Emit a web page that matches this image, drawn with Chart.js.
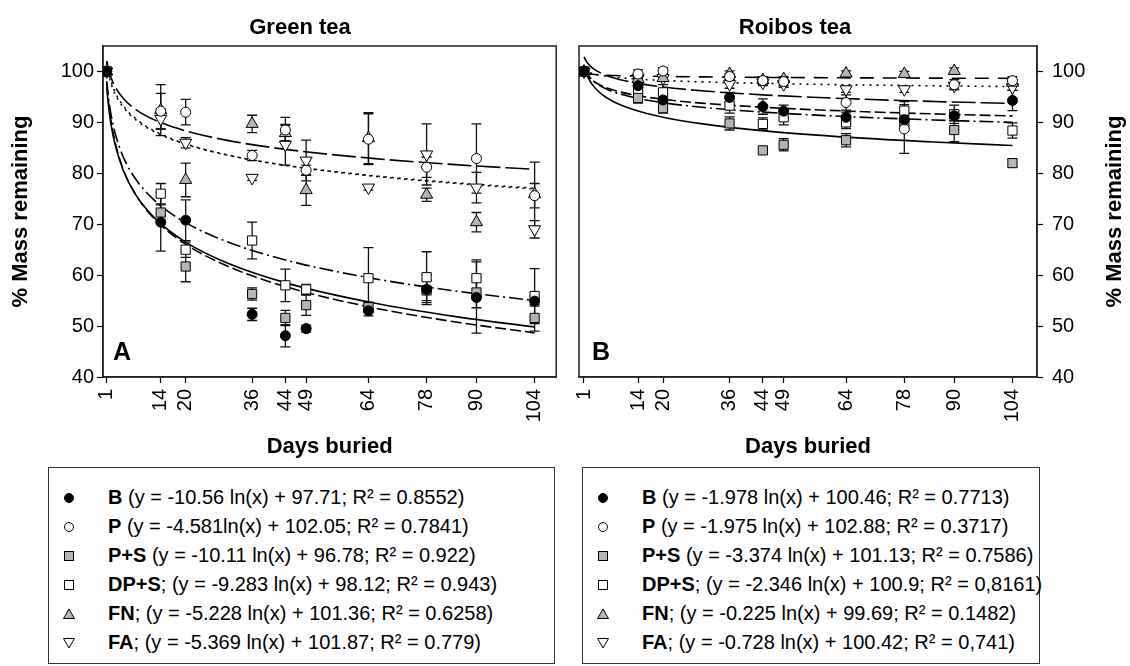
<!DOCTYPE html>
<html>
<head>
<meta charset="utf-8">
<script src="https://cdn.jsdelivr.net/npm/chart.js@4.4.1/dist/chart.umd.min.js"></script>
<style>
  body { margin: 0; background: #fff; font-family: "Liberation Sans", Arial, sans-serif; }
  #wrap { position: relative; width: 1130px; height: 666px; overflow: hidden; background: #fff; }
  #wrap canvas { position: absolute; top: 0; }
  .legend { position: absolute; top: 467px; height: 197px; border: 1px solid #333; box-sizing: border-box; }
  .row { position: absolute; left: 0; height: 29px; line-height: 29px; font-size: 20px; color: #000; white-space: nowrap; }
  .row svg { position: absolute; top: 8px; }
  .row span { position: absolute; top: 0; }
</style>
</head>
<body>
<div id="wrap">
  <canvas id="green" width="565" height="462" style="left:0"></canvas>
  <canvas id="roibos" width="565" height="462" style="left:565px"></canvas>
  <div class="legend" id="legGreen" style="left:48px; width:507px"></div>
  <div class="legend" id="legRoibos" style="left:582px; width:458px"></div>
</div>
<script>
// ---- Data ----
const days = [1, 14, 20, 36, 44, 49, 64, 78, 90, 104];
const dayTicks = [1, 14, 20, 36, 44, 49, 64, 78, 90, 104];
const yTicks = [40, 50, 60, 70, 80, 90, 100];
const seriesNames = ['B', 'P', 'P+S', 'DP+S', 'FN', 'FA'];

// Green tea: mean % mass remaining
const gtB   = [100, 70.4, 70.8, 52.3, 48.1, 49.5, 53.0, 57.2, 55.6, 54.9];
const gtP   = [100, 92.2, 92.0, 83.5, 88.5, 80.6, 86.7, 81.2, 82.9, 75.6];
const gtPS  = [100, 72.3, 61.7, 56.3, 51.6, 54.1, 53.7, 57.0, 56.6, 51.6];
const gtDPS = [100, 76.0, 65.0, 66.8, 58.0, 57.2, 59.4, 59.6, 59.4, 55.9];
const gtFN  = [100, 92.4, 78.7, 89.7, 87.9, 76.7, 86.9, 75.8, 70.4, 75.9];
const gtFA  = [100, 90.7, 86.0, 79.1, 85.6, 82.5, 77.2, 83.7, 77.2, 69.0];
// Green tea: error (+/-)
const gtBErr   = [0, 5.7, 4.0, 1.2, 2.2, 0.7, 1.0, 3.0, 7.0, 1.0];
const gtPErr   = [0, 3.5, 2.5, 1.0, 2.5, 1.0, 5.0, 2.0, 6.8, 2.4];
const gtPSErr  = [0, 1.5, 3.0, 1.2, 1.5, 2.0, 1.0, 2.0, 3.0, 2.6];
const gtDPSErr = [0, 2.0, 1.5, 3.6, 3.2, 1.0, 6.0, 5.0, 3.6, 5.4];
const gtFNErr  = [0, 5.0, 3.3, 1.7, 1.5, 3.0, 5.0, 1.3, 1.9, 6.3];
const gtFAErr  = [0, 2.0, 1.0, 0.5, 4.0, 4.0, 0.5, 6.0, 3.0, 1.7];

// Roibos tea: mean % mass remaining
const rbB   = [100, 97.2, 94.4, 94.9, 93.1, 92.2, 91.0, 90.5, 91.3, 94.3];
const rbP   = [100, 99.5, 100.1, 99.0, 98.2, 98.0, 93.9, 88.7, 97.4, 98.2];
const rbPS  = [100, 94.8, 92.8, 89.8, 84.5, 85.6, 86.5, 90.2, 88.5, 82.0];
const rbDPS = [100, 96.2, 95.9, 93.3, 89.7, 91.0, 90.0, 92.3, 91.6, 88.4];
const rbFN  = [100, 98.5, 98.7, 99.5, 98.3, 98.5, 99.6, 99.5, 100.1, 97.8];
const rbFA  = [100, 98.7, 98.7, 97.5, 97.8, 97.5, 96.5, 96.5, 97.2, 96.9];
// Roibos tea: error (+/-)
const rbBErr   = [0, 1.0, 1.0, 1.0, 1.5, 1.2, 1.0, 1.2, 1.0, 2.0];
const rbPErr   = [0, 0.8, 0.6, 0.6, 0.8, 0.8, 1.5, 4.8, 1.0, 0.8];
const rbPSErr  = [0, 1.0, 1.0, 1.3, 0, 1.2, 1.3, 1.2, 2.3, 0.8];
const rbDPSErr = [0, 1.2, 1.5, 1.5, 1.2, 1.5, 1.2, 1.8, 1.8, 1.5];
const rbFNErr  = [0, 0.5, 0.5, 0.6, 0.5, 0.5, 0.5, 0.5, 0.6, 0.5];
const rbFAErr  = [0, 0.6, 0.6, 0.8, 0.6, 0.6, 0.6, 0.6, 0.6, 0.6];

// Fitted log curves
const trendX = [1, 1.5, 2, 3, 5, 8, 13, 20, 30, 45, 65, 85, 104];
const gtTrendB   = [97.71, 93.43, 90.39, 86.11, 80.72, 75.75, 70.63, 66.08, 61.79, 57.51, 53.63, 50.80, 48.67];
const gtTrendP   = [102.05, 100.19, 98.87, 97.02, 94.68, 92.52, 90.30, 88.33, 86.47, 84.61, 82.93, 81.70, 80.77];
const gtTrendPS  = [96.78, 92.68, 89.77, 85.67, 80.51, 75.76, 70.85, 66.49, 62.39, 58.29, 54.58, 51.86, 49.83];
const gtTrendDPS = [98.12, 94.36, 91.69, 87.92, 83.18, 78.82, 74.31, 70.31, 66.55, 62.78, 59.37, 56.88, 55.01];
const gtTrendFN  = [101.36, 99.24, 97.74, 95.62, 92.95, 90.49, 87.95, 85.70, 83.58, 81.46, 79.54, 78.13, 77.08];
const gtTrendFA  = [101.87, 99.69, 98.15, 95.97, 93.23, 90.71, 88.10, 85.79, 83.61, 81.43, 79.46, 78.02, 76.93];
const rbTrendB   = [100.46, 99.66, 99.09, 98.29, 97.28, 96.35, 95.39, 94.53, 93.73, 92.93, 92.20, 91.67, 91.27];
const rbTrendP   = [102.88, 102.08, 101.51, 100.71, 99.70, 98.77, 97.81, 96.96, 96.16, 95.36, 94.64, 94.11, 93.71];
const rbTrendPS  = [101.13, 99.76, 98.79, 97.42, 95.70, 94.11, 92.48, 91.02, 89.65, 88.29, 87.05, 86.14, 85.46];
const rbTrendDPS = [100.90, 99.95, 99.27, 98.32, 97.12, 96.02, 94.88, 93.87, 92.92, 91.97, 91.11, 90.48, 90.00];
const rbTrendFN  = [99.69, 99.60, 99.53, 99.44, 99.33, 99.22, 99.11, 99.02, 98.93, 98.83, 98.75, 98.69, 98.65];
const rbTrendFA  = [100.42, 100.13, 99.92, 99.62, 99.25, 98.91, 98.55, 98.24, 97.94, 97.65, 97.38, 97.19, 97.04];

// Legend equations
const gtEq = [' (y = -10.56 ln(x) + 97.71; R² = 0.8552)', ' (y = -4.581ln(x) + 102.05; R² = 0.7841)',
  ' (y = -10.11 ln(x) + 96.78; R² = 0.922)', '; (y = -9.283 ln(x) + 98.12; R² = 0.943)',
  '; (y = -5.228 ln(x) + 101.36; R² = 0.6258)', '; (y = -5.369 ln(x) + 101.87; R² = 0.779)'];
const rbEq = [' (y = -1.978 ln(x) + 100.46; R² = 0.7713)', ' (y = -1.975 ln(x) + 102.88; R² = 0.3717)',
  ' (y = -3.374 ln(x) + 101.13; R² = 0.7586)', '; (y = -2.346 ln(x) + 100.9; R² = 0,8161)',
  '; (y = -0.225 ln(x) + 99.69; R² = 0.1482)', '; (y = -0.728 ln(x) + 100.42; R² = 0,741)'];

// ---- Styles ----
const FONT = '"Liberation Sans", Arial, sans-serif';
const GREY = '#b4b4b4';
const markerShape  = ['circle', 'circle', 'rect', 'rect', 'triangle', 'triangle'];
const markerFill   = ['#000', '#fff', GREY, '#fff', GREY, '#fff'];
const markerRadius = [5, 5, 6.5, 6.5, 7, 7];
const markerRot    = [0, 0, 0, 0, 0, 180];
// green tea FN curve sits under the FA dots, so it is dotted there too
const greenDash  = [[11, 4], [24, 5], [], [14, 4, 2, 4], [2, 5], [2, 5]];
const roibosDash = [[11, 4], [24, 5], [], [14, 4, 2, 4], [14, 9], [2, 5]];

Chart.defaults.font.family = FONT;
Chart.defaults.color = '#000';

// frame, error bars, titles and panel letters
const decor = {
  id: 'decor',
  beforeDatasetsDraw(chart, args, o) {
    const { ctx, chartArea: a } = chart;
    const xs = chart.scales.x, ys = chart.scales.y;
    ctx.save();
    ctx.strokeStyle = '#222';
    ctx.lineWidth = 1.5;
    ctx.strokeRect(a.left, a.top, a.right - a.left, a.bottom - a.top);

    // error bars
    ctx.strokeStyle = '#111';
    ctx.lineWidth = 1.3;
    o.values.forEach((vals, i) => {
      vals.forEach((v, k) => {
        const e = o.errors[i][k];
        if (!e) return;
        const px = xs.getPixelForValue(days[k]);
        const y1 = ys.getPixelForValue(v + e), y2 = ys.getPixelForValue(v - e);
        ctx.beginPath();
        ctx.moveTo(px, y1); ctx.lineTo(px, y2);
        ctx.moveTo(px - 5, y1); ctx.lineTo(px + 5, y1);
        ctx.moveTo(px - 5, y2); ctx.lineTo(px + 5, y2);
        ctx.stroke();
      });
    });
    ctx.restore();
  },
  afterDraw(chart, args, o) {
    const { ctx, chartArea: a } = chart;
    ctx.save();
    ctx.fillStyle = '#000';
    ctx.textBaseline = 'alphabetic';
    ctx.textAlign = 'center';
    ctx.font = 'bold 22px ' + FONT;
    ctx.fillText(o.title, a.left + o.titleDx, 34);
    ctx.textAlign = 'left';
    ctx.font = 'bold 25px ' + FONT;
    ctx.fillText(o.letter, a.left + o.letterDx, a.bottom - 17);
    if (o.rightTitle) {
      ctx.translate(chart.width - 15, (a.top + a.bottom) / 2);
      ctx.rotate(-Math.PI / 2);
      ctx.textAlign = 'center';
      ctx.textBaseline = 'middle';
      ctx.font = 'bold 22px ' + FONT;
      ctx.fillText('% Mass remaining', 0, 0);
    }
    ctx.restore();
  }
};

function buildPanel(id, p) {
  const datasets = [];
  p.trends.forEach((t, i) => datasets.push({
    data: trendX.map((x, k) => ({ x: x, y: t[k] })),
    showLine: true,
    pointRadius: 0,
    borderColor: '#000',
    borderWidth: 1.6,
    borderDash: p.dashes[i],
    cubicInterpolationMode: 'monotone',
    order: 2
  }));
  p.values.forEach((v, i) => datasets.push({
    label: seriesNames[i],
    data: days.map((d, k) => ({ x: d, y: v[k] })),
    showLine: false,
    pointStyle: markerShape[i],
    pointRadius: markerRadius[i],
    pointRotation: markerRot[i],
    pointBackgroundColor: markerFill[i],
    pointBorderColor: '#000',
    pointBorderWidth: 1,
    order: 1
  }));

  return new Chart(document.getElementById(id), {
    type: 'scatter',
    data: { datasets: datasets },
    options: {
      responsive: false,
      animation: false,
      devicePixelRatio: 1,
      layout: { padding: p.padding },
      plugins: {
        legend: { display: false },
        tooltip: { enabled: false },
        decor: p.decor
      },
      scales: {
        x: {
          type: 'linear',
          min: p.xMin,
          max: p.xMax,
          afterBuildTicks: s => { s.ticks = dayTicks.map(v => ({ value: v })); },
          afterFit: s => { s.height = 85; },
          grid: { drawOnChartArea: false, tickLength: 6, tickColor: '#000', tickWidth: 1.2 },
          border: { color: '#222', width: 1.5 },
          ticks: { autoSkip: false, minRotation: 90, maxRotation: 90, padding: 6, font: { size: 20 } },
          title: { display: true, text: 'Days buried', font: { size: 22, weight: 'bold' }, padding: { top: 0, bottom: 2 } }
        },
        y: {
          type: 'linear',
          position: p.yPos,
          min: 40,
          max: 105,
          afterBuildTicks: s => { s.ticks = yTicks.map(v => ({ value: v })); },
          afterFit: s => { s.width = p.yWidth; },
          grid: { drawOnChartArea: false, tickLength: 6, tickColor: '#000', tickWidth: 1.2 },
          border: { color: '#222', width: 1.5 },
          ticks: { padding: p.yPos === 'left' ? 3 : 9, font: { size: 20 } },
          title: {
            display: p.yPos === 'left',
            text: '% Mass remaining',
            font: { size: 22, weight: 'bold' },
            padding: { top: 8, bottom: 0 }
          }
        }
      }
    },
    plugins: [decor]
  });
}

buildPanel('green', {
  values: [gtB, gtP, gtPS, gtDPS, gtFN, gtFA],
  errors: [gtBErr, gtPErr, gtPSErr, gtDPSErr, gtFNErr, gtFAErr],
  trends: [gtTrendB, gtTrendP, gtTrendPS, gtTrendDPS, gtTrendFN, gtTrendFA],
  dashes: greenDash,
  xMin: 0.1, xMax: 109.2,
  yPos: 'left', yWidth: 103,
  padding: { left: 0, right: 8, top: 46, bottom: 0 },
  decor: { title: 'Green tea', titleDx: 197, letter: 'A', letterDx: 10, rightTitle: false,
    values: [gtB, gtP, gtPS, gtDPS, gtFN, gtFA],
    errors: [gtBErr, gtPErr, gtPSErr, gtDPSErr, gtFNErr, gtFAErr] }
});

buildPanel('roibos', {
  values: [rbB, rbP, rbPS, rbDPS, rbFN, rbFA],
  errors: [rbBErr, rbPErr, rbPSErr, rbDPSErr, rbFNErr, rbFAErr],
  trends: [rbTrendB, rbTrendP, rbTrendPS, rbTrendDPS, rbTrendFN, rbTrendFA],
  dashes: roibosDash,
  xMin: -0.2, xMax: 109.9,
  yPos: 'right', yWidth: 93,
  padding: { left: 14, right: 0, top: 46, bottom: 0 },
  decor: { title: 'Roibos tea', titleDx: 216, letter: 'B', letterDx: 13, rightTitle: true,
    values: [rbB, rbP, rbPS, rbDPS, rbFN, rbFA],
    errors: [rbBErr, rbPErr, rbPSErr, rbDPSErr, rbFNErr, rbFAErr] }
});

// ---- Legends (HTML) ----
function markerSvg(i, left) {
  const s = markerShape[i], f = markerFill[i];
  let shape;
  if (s === 'circle') shape = `<circle cx="7" cy="7" r="4.5" fill="${f}" stroke="#000" stroke-width="1"/>`;
  else if (s === 'rect') shape = `<rect x="2.5" y="2.5" width="9" height="9" fill="${f}" stroke="#000" stroke-width="1"/>`;
  else if (markerRot[i]) shape = `<polygon points="1.5,2.5 12.5,2.5 7,12" fill="${f}" stroke="#000" stroke-width="1"/>`;
  else shape = `<polygon points="7,2 12.5,11.5 1.5,11.5" fill="${f}" stroke="#000" stroke-width="1"/>`;
  return `<svg style="left:${left}px" width="14" height="14" viewBox="0 0 14 14">${shape}</svg>`;
}

function buildLegend(id, eqs, markerX, textX) {
  const box = document.getElementById(id);
  seriesNames.forEach((name, i) => {
    const row = document.createElement('div');
    row.className = 'row';
    row.style.top = (15 + i * 28.9) + 'px';
    row.innerHTML = markerSvg(i, markerX - 7) +
      `<span style="left:${textX}px"><b>${name}</b>${eqs[i]}</span>`;
    box.appendChild(row);
  });
}

buildLegend('legGreen', gtEq, 20, 59);
buildLegend('legRoibos', rbEq, 20, 59);
</script>
</body>
</html>
